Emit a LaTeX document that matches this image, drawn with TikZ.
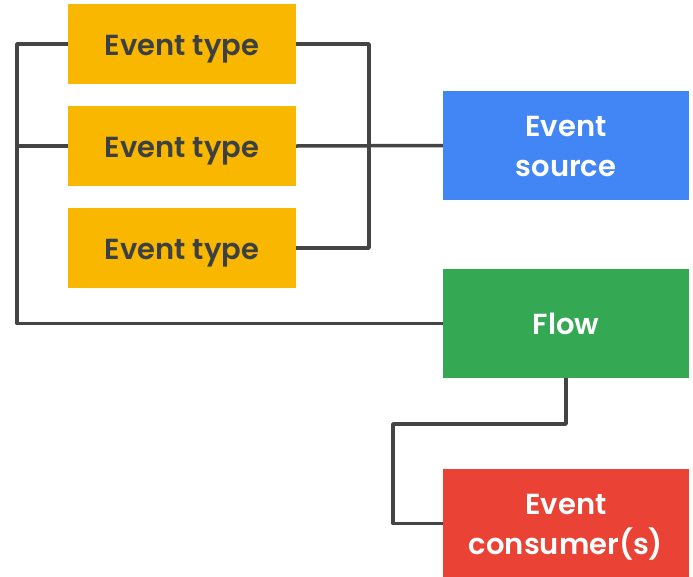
\documentclass[tikz,border=0pt]{standalone}
\usepackage{fontspec}
\setmainfont{Poppins}[BoldFont={* SemiBold}]
\usepackage{xcolor}
\usepackage{tikz}
\definecolor{ytype}{HTML}{F9B700}
\definecolor{bsrc}{HTML}{4285F4}
\definecolor{gflow}{HTML}{34A853}
\definecolor{rcons}{HTML}{EA4335}
\definecolor{ink}{HTML}{3C4043}
\definecolor{wire}{HTML}{444444}
\tikzset{
  box/.style={draw=none, inner sep=0pt, align=center, text height=22pt, text depth=0pt,
    font=\bfseries\fontsize{29}{40}\selectfont},
  twoline/.style={text height=62pt},
  typebox/.style={box, fill=ytype, text=ink, minimum width=228pt, minimum height=80pt},
  bigbox/.style={box, text=white, minimum width=246pt, minimum height=109pt},
  link/.style={draw=wire, line width=3.5pt, line join=round}
}

\begin{document}
\begin{tikzpicture}[x=1pt,y=-1pt]
  \useasboundingbox (0,0) rectangle (693,576);

  % event types
  \node[typebox] (t1) at (182,44) {Event type};
  \node[typebox] (t2) at (182,146) {Event type};
  \node[typebox] (t3) at (182,248) {Event type};

  \node[bigbox, twoline, fill=bsrc] (src) at (566,145.5) {Event\\source};
  \node[bigbox, fill=gflow] (flow) at (566,323.5) {Flow};
  \node[bigbox, twoline, fill=rcons] (cons) at (566,523.5) {Event\\consumer(s)};

  % wiring
  \coordinate (lbus) at (17,44);
  \coordinate (rbus) at (369,44);
  \coordinate (bend) at (393,424);
  \draw[link] (t1.west) -- (lbus) |- (flow.west);
  \draw[link] (t2.west) -- (t2.west -| lbus);
  \draw[link] (t1.east) -- (rbus) |- (t3.east);
  \draw[link] (t2.east) -- (src.west);
  \draw[link] (flow.south) |- (bend) |- (cons.west);
\end{tikzpicture}
\end{document}
